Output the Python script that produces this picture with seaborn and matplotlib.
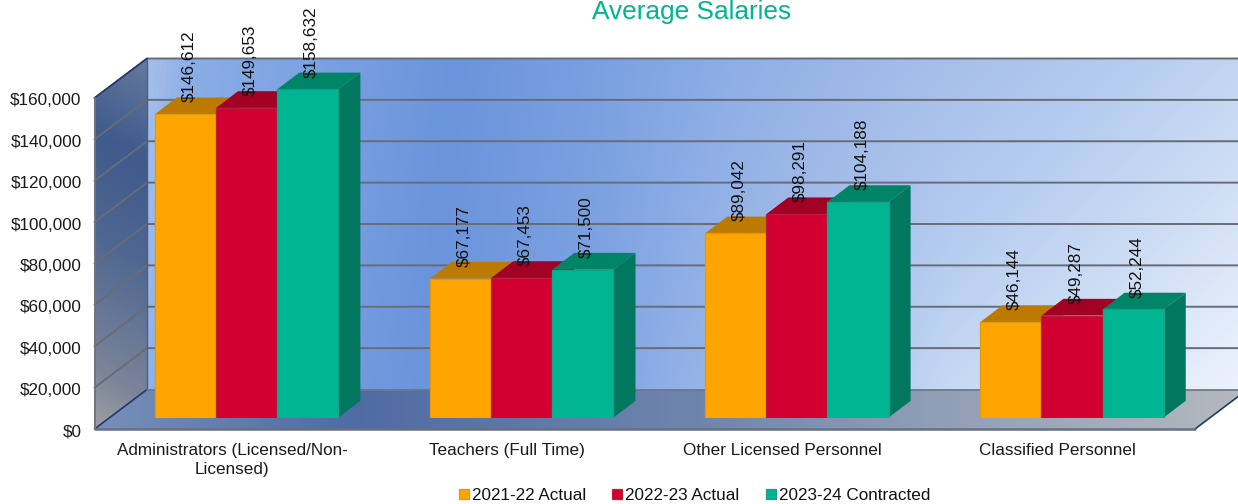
import numpy as np
import pandas as pd
import matplotlib
matplotlib.use("Agg")
import matplotlib.pyplot as plt
import seaborn as sns
from matplotlib.colors import LinearSegmentedColormap
from matplotlib.patches import Polygon
from matplotlib.ticker import FuncFormatter
from matplotlib.transforms import ScaledTranslation

categories = ["Administrators (Licensed/Non-\nLicensed)", "Teachers (Full Time)",
              "Other Licensed Personnel", "Classified Personnel"]
series = ["2021-22 Actual", "2022-23 Actual", "2023-24 Contracted"]
actual_2122 = [146612, 67177, 89042, 46144]
actual_2223 = [149653, 67453, 98291, 49287]
contracted_2324 = [158632, 71500, 104188, 52244]
y_ticks = [0, 20000, 40000, 60000, 80000, 100000, 120000, 140000, 160000]

front_colors = ["#FFA500", "#D10030", "#00B592"]
edge_colors = ["#E09A10", "#B8203F", "#1AA088"]
top_colors = ["#BD7A00", "#A30025", "#008468"]
side_colors = ["#BD7A00", "#A30025", "#00775E"]

W, H = 1238, 504
FONT = 12.3


def gradient(stops):
    lo, hi = stops[0][0], stops[-1][0]
    return LinearSegmentedColormap.from_list(
        "g", [((v - lo) / (hi - lo), c) for v, c in stops]), lo, hi


def fill_wall(ax, corners, t, stops):
    """paint a gradient (t is defined on the pixel grid) clipped to a polygon"""
    cmap, lo, hi = gradient(stops)
    im = ax.imshow(t, cmap=cmap, vmin=lo, vmax=hi, extent=(0, W, H, 0),
                   aspect="auto", zorder=0, interpolation="bilinear")
    im.set_clip_path(Polygon(corners, closed=True, transform=ax.transData))


df = pd.DataFrame({
    "category": categories * 3,
    "series": np.repeat(series, 4),
    "salary": actual_2122 + actual_2223 + contracted_2324,
})

sns.set_theme(style="white")
plt.rcParams["font.family"] = ["Liberation Sans", "DejaVu Sans"]
fig = plt.figure(figsize=(W / 100, H / 100), dpi=100)

# front plane of the box, carries the axis labels
x0, x1, y0, y_top = 94.5, 1195, 429, 98
ax_bg = fig.add_axes([0, 0, 1, 1])
ax = fig.add_axes([x0 / W, (H - y0) / H, (x1 - x0) / W, (y0 - y_top) / H])
# bars stand a little way into the box
shift_x, shift_y = 14.6, 11.5
ax_bars = fig.add_axes([(x0 + shift_x) / W, (H - y0 + shift_y) / H, (x1 - x0) / W, (y0 - y_top) / H])

ax.set_xlim(-0.5, 3.5)
ax.set_ylim(0, 160000)
ax.set_xticks(range(4))
ax.set_xticklabels(categories)
ax.set_yticks(y_ticks)
ax.yaxis.set_major_formatter(FuncFormatter(lambda v, p: "${:,.0f}".format(v)))
ax.tick_params(axis="x", length=0, pad=10.2, labelsize=FONT, colors="#1a1a1a")
ax.tick_params(axis="y", length=0, pad=9.3, labelsize=FONT, colors="#1a1a1a")
ax.patch.set_visible(False)
sns.despine(ax=ax, left=True, bottom=True)
for t in ax.get_xticklabels():
    t.set_linespacing(1.3)
nudge = ScaledTranslation(0, -1.5 / 100, fig.dpi_scale_trans)
for t in ax.get_yticklabels():
    t.set_transform(t.get_transform() + nudge)

# box walls
depth_x, depth_y = 52.5, 39.5
px, py = np.meshgrid(np.arange(W), np.arange(H))
ax_bg.set_axis_off()
back = [(x0 + depth_x, y_top - depth_y), (W + 20, y_top - depth_y), (W + 20, y0 - depth_y), (x0 + depth_x, y0 - depth_y)]
left = [(x0, y_top), (x0 + depth_x, y_top - depth_y), (x0 + depth_x, y0 - depth_y), (x0, y0)]
floor = [(x0, y0), (x0 + depth_x, y0 - depth_y), (x1 + depth_x, y0 - depth_y), (x1, y0)]
# the back wall shading runs upright on the left and diagonal on the right
tilt = np.interp(px, [600, 950], [0.1, 1.0])
fill_wall(ax_bg, back, px + tilt * py,
          [(150, "#A6C0EB"), (200, "#8AADE6"), (460, "#6A94DC"), (771, "#8FAFE6"), (930, "#A0BAE8"),
           (1192, "#B5CCF0"), (1350, "#C8D9F3"), (1630, "#EDF3FD")])
fill_wall(ax_bg, left, py - 0.6 * (px - x0),
          [(30, "#64799E"), (130, "#3F5A8C"), (230, "#4E6690"), (370, "#7C8599"), (425, "#9C9FA4")])
fill_wall(ax_bg, floor, px,
          [(95, "#7890B8"), (350, "#4E6BA3"), (700, "#7085AD"), (900, "#8C9BB5"), (1240, "#B4B8BF")])
ax_bg.set_xlim(0, W)
ax_bg.set_ylim(H, 0)

for v in y_ticks[1:]:
    yf = H - ax.transData.transform((0, v))[1]
    ax_bg.plot([x0, x0 + depth_x, W + 20], [yf, yf - depth_y, yf - depth_y], color="#666C78", lw=1.4, zorder=1)
ax_bg.plot([x0, x0 + depth_x], [y_top, y_top - depth_y], color="#22396B", lw=1.2, zorder=2)
ax_bg.plot([x0, x0 + depth_x], [y0, y0 - depth_y], color="#22396B", lw=1.2, zorder=2)
ax_bg.plot([x1, x1 + depth_x], [y0, y0 - depth_y], color="#22396B", lw=1.2, zorder=2)
ax_bg.plot([x0, x0], [y_top, y0], color="#6E747E", lw=1.4, zorder=2)
ax_bg.plot([x0, x1], [y0, y0], color="#667085", lw=1.8, zorder=2)
ax_bg.plot([x0 + depth_x, x0 + depth_x], [y_top - depth_y, y0 - depth_y], color="#4A5F85", lw=1.0, zorder=2)
ax_bg.plot([x0 + depth_x, W + 20], [y0 - depth_y, y0 - depth_y], color="#6E7683", lw=1.2, zorder=2)

# bars
sns.barplot(data=df, x="category", y="salary", hue="series", order=categories, hue_order=series,
            palette=front_colors, width=2 / 3, gap=0, saturation=1, ax=ax_bars)
ax_bars.set_xlim(-0.5, 3.5)
ax_bars.set_ylim(0, 160000)
ax_bars.set_axis_off()
ax_bars.patch.set_visible(False)

bar_dx = 22 / ((x1 - x0) / 4)
bar_dy = 16.7 * 160000 / (y0 - y_top)
for i, container in enumerate(ax_bars.containers):
    for bar in container:
        x, w, h = bar.get_x(), bar.get_width(), bar.get_height()
        bar.set_edgecolor(edge_colors[i])
        bar.set_linewidth(0.9)
        bar.set_zorder(3 + 3 * i)
        ax_bars.add_patch(Polygon([(x, h), (x + bar_dx, h + bar_dy), (x + w + bar_dx, h + bar_dy), (x + w, h)],
                                  closed=True, facecolor=top_colors[i], edgecolor="none",
                                  zorder=2 + 3 * i, clip_on=False))
        ax_bars.add_patch(Polygon([(x + w, 0), (x + w + bar_dx, bar_dy), (x + w + bar_dx, h + bar_dy), (x + w, h)],
                                  closed=True, facecolor=side_colors[i], edgecolor="none",
                                  zorder=1 + 3 * i, clip_on=False))
    labels = ax_bars.bar_label(container, fmt=lambda v: "${:,.0f}".format(v), rotation=90,
                               padding=8, fontsize=FONT, color="#111111")
    for t in labels:
        t.xyann = (2.7, 8.5)
        t.set_zorder(30)
        t.set_clip_on(False)

handles, names = ax_bars.get_legend_handles_labels()
ax_bars.get_legend().remove()
leg = fig.legend(handles, names, loc="center", bbox_to_anchor=(694.5 / W, 1 - 495.5 / H), ncol=3, frameon=False,
                 fontsize=FONT, handlelength=0.59, handleheight=0.59, handletextpad=0.18, columnspacing=1.53,
                 labelcolor="#111111")
for patch, c in zip(leg.get_patches(), edge_colors):
    patch.set_edgecolor(c)
    patch.set_linewidth(0.9)

fig.suptitle("Average Salaries", x=692 / W, y=1 - 12.5 / H, va="center", ha="center", fontsize=18.9, color="#00B592")

fig.savefig("out.png", dpi=100)
